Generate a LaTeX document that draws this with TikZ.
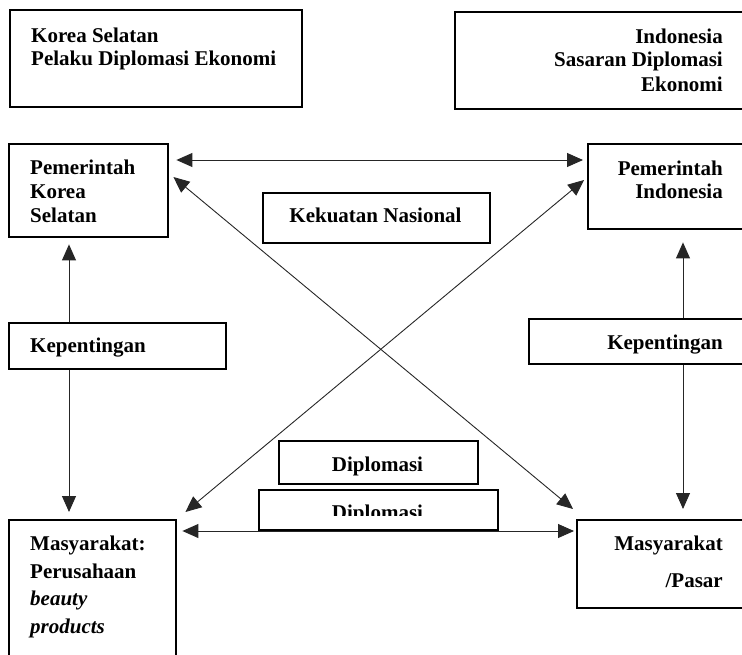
\documentclass[tikz,border=0pt]{standalone}
\usepackage{fontspec}
\setmainfont{Liberation Serif}
\usetikzlibrary{arrows.meta,calc}
\begin{document}
\begin{tikzpicture}[x=1pt,y=-1pt,
  box/.style={draw, line width=2.4pt, rectangle, inner sep=0pt, anchor=north west},
  lbl/.style={inner sep=0pt, font=\fontsize{21}{24}\selectfont\bfseries},
  conn/.style={line width=0.9pt, draw=black!85},
  tip/.style={-{Triangle[length=16pt,width=14pt]}},
  tips/.style={{Triangle[length=16pt,width=14pt]}-{Triangle[length=16pt,width=14pt]}}]
\useasboundingbox (0,0) rectangle (742,654);
\clip (0,0) rectangle (742,654);
% boxes
\node[box, minimum width=292pt, minimum height=97pt] (ks) at (9,9) {};
\node[box, minimum width=320pt, minimum height=97pt] (id) at (454,11) {};
\node[box, minimum width=159pt, minimum height=93pt] (pk) at (8,143) {};
\node[box, minimum width=227pt, minimum height=50pt] (ku) at (262,192) {};
\node[box, minimum width=200pt, minimum height=85pt] (pi) at (587,143) {};
\node[box, minimum width=217pt, minimum height=46pt] (kl) at (8,322) {};
\node[box, minimum width=250pt, minimum height=45pt] (kr) at (528,318) {};
\node[box, minimum width=199pt, minimum height=43pt] (d1) at (278,440) {};
\node[box, minimum width=239pt, minimum height=40pt] (d2) at (258,489) {};
\node[box, minimum width=167pt, minimum height=200pt] (ml) at (8,519) {};
\node[box, minimum width=200pt, minimum height=88pt] (mp) at (576,519) {};
% texts
\node[lbl, anchor=base west] (ks1) at (31,42) {Korea Selatan};
\node[lbl, anchor=base west] (ks2) at (31,65) {Pelaku Diplomasi Ekonomi};
\node[lbl, anchor=base east] (id1) at (723,43) {Indonesia};
\node[lbl, anchor=base east] (id2) at (723,66) {Sasaran Diplomasi};
\node[lbl, anchor=base east] (id3) at (723,91) {Ekonomi};
\node[lbl, anchor=base west] (pk1) at (30,174) {Pemerintah};
\node[lbl, anchor=base west] (pk2) at (30,198) {Korea};
\node[lbl, anchor=base west] (pk3) at (30,222) {Selatan};
\node[lbl, anchor=base east] (pi1) at (723,175) {Pemerintah};
\node[lbl, anchor=base east] (pi2) at (723,198) {Indonesia};
\node[lbl, anchor=base] (ku1) at (375.5,222) {Kekuatan Nasional};
\node[lbl, anchor=base west] (kl1) at (30,352) {Kepentingan};
\node[lbl, anchor=base east] (kr1) at (723,349) {Kepentingan};
\node[lbl, anchor=base] (d1t) at (377.5,471) {Diplomasi};
\begin{scope}
  \clip (258,489) rectangle (497,515);
  \node[lbl, anchor=base] (d2t) at (377.5,519) {Diplomasi};
\end{scope}
\node[lbl, anchor=base west] (ml1) at (30,550) {Masyarakat:};
\node[lbl, anchor=base west] (ml2) at (30,578) {Perusahaan};
\node[lbl, anchor=base west] (ml3) at (30,605) {\itshape beauty};
\node[lbl, anchor=base west] (ml4) at (30,633) {\itshape products};
\node[lbl, anchor=base east] (mp1) at (723,550) {Masyarakat};
\node[lbl, anchor=base east] (mp2) at (723,587) {/Pasar};
% helper coordinates
\coordinate (vl) at (69,0);
\coordinate (vr) at (683,0);
\coordinate (ht) at (0,160);
\coordinate (hb) at (0,531);
% connectors
\draw[conn, tips, shorten <=7pt, shorten >=4pt] (pk.east |- ht) -- (pi.west |- ht);
\draw[conn, tips, shorten <=5pt, shorten >=2pt] (ml.east |- hb) -- (mp.west |- hb);
\draw[conn, tips] ([shift={(4,34)}]pk.north east) -- ([shift={(-3,-10)}]mp.north west);
\draw[conn, tips] ([shift={(-3,37)}]pi.north west) -- ([shift={(8,-7)}]ml.north east);
\draw[conn, tip, shorten >=6pt] (kl.north -| vl) -- (pk.south -| vl);
\draw[conn, tip, shorten >=7pt] (kl.south -| vl) -- (ml.north -| vl);
\draw[conn, tip, shorten >=12pt] (kr.north -| vr) -- (pi.south -| vr);
\draw[conn, tip, shorten >=10pt] (kr.south -| vr) -- (mp.north -| vr);
\end{tikzpicture}
\end{document}
